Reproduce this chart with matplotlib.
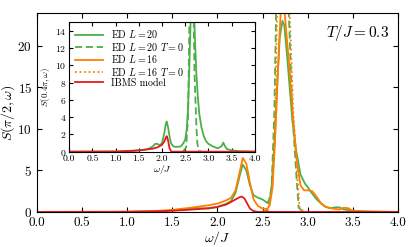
import matplotlib
matplotlib.use("Agg")
import matplotlib.pyplot as plt

plt.rcParams["font.family"] = "serif"
plt.rcParams["font.serif"] = ["cmr10", "DejaVu Serif"]
plt.rcParams["mathtext.fontset"] = "cm"
plt.rcParams["axes.formatter.use_mathtext"] = True

green = "#4daf4a"
orange = "#ff7f00"
red = "#e41a1c"

# main panel: S(pi/2, omega)
w_g20 = [0, 1.0, 1.4, 1.6, 1.7, 1.75, 1.8, 1.9, 2.0, 2.1, 2.15, 2.2, 2.25, 2.28, 2.32, 2.36,
         2.4, 2.45, 2.5, 2.55, 2.58, 2.6, 2.63, 2.66, 2.69, 2.72, 2.74, 2.77, 2.8, 2.83, 2.87,
         2.92, 2.97, 3.0, 3.05, 3.1, 3.15, 3.2, 3.25, 3.3, 3.35, 3.4, 3.5, 3.6, 3.8, 4.0]
s_g20 = [0, 0.02, 0.1, 0.25, 0.4, 0.5, 0.45, 0.4, 0.6, 1.0, 1.3, 2.3, 4.5, 5.7, 5.0, 3.2,
         2.0, 1.7, 1.5, 1.1, 1.5, 3.0, 8, 15, 21, 23, 22.5, 19, 15, 11, 7.5,
         4.5, 3.4, 3.0, 2.2, 1.5, 1.0, 0.6, 0.45, 0.55, 0.55, 0.3, 0.15, 0.08, 0.03, 0.0]

w_g20_t0 = [2.5, 2.55, 2.6, 2.63, 2.65, 2.7, 2.75, 2.79, 2.83, 2.87, 2.9, 2.95]
s_g20_t0 = [0, 0.2, 3, 12, 24, 40, 35, 24, 12, 5, 0.5, 0]

w_o16 = [0, 1.0, 1.3, 1.5, 1.7, 1.9, 2.0, 2.1, 2.15, 2.2, 2.25, 2.28, 2.32, 2.36, 2.4, 2.45,
         2.5, 2.55, 2.58, 2.61, 2.64, 2.67, 2.7, 2.73, 2.76, 2.8, 2.84, 2.88, 2.92, 2.96, 3.0,
         3.05, 3.1, 3.15, 3.2, 3.3, 3.35, 3.4, 3.45, 3.5, 3.7, 4.0]
s_o16 = [0, 0.02, 0.1, 0.25, 0.5, 0.8, 1.0, 1.4, 1.7, 2.6, 5.0, 6.5, 5.8, 3.5, 1.5, 0.7,
         0.4, 0.35, 0.8, 3, 9, 17, 24, 26, 22, 17, 11, 6, 3.2, 2.6, 2.6,
         2.5, 1.8, 1.0, 0.6, 0.35, 0.3, 0.5, 0.45, 0.1, 0.02, 0]

w_o16_t0 = [2.5, 2.56, 2.61, 2.64, 2.66, 2.71, 2.76, 2.8, 2.84, 2.88, 2.91, 2.96]
s_o16_t0 = [0, 0.2, 3, 12, 24, 40, 35, 24, 12, 5, 0.5, 0]

w_ibms = [0, 0.8, 1.0, 1.2, 1.4, 1.6, 1.8, 1.9, 2.0, 2.1, 2.15, 2.2, 2.25, 2.27, 2.3, 2.33,
          2.36, 2.4, 2.45, 4.0]
s_ibms = [0, 0.0, 0.02, 0.05, 0.1, 0.2, 0.35, 0.45, 0.6, 0.9, 1.2, 1.5, 1.8, 1.85, 1.6, 1.0,
          0.4, 0.1, 0, 0]

# inset: S(0.4pi, omega)
wi_g20 = [0, 1.0, 1.5, 1.7, 1.8, 1.85, 1.9, 1.95, 2.0, 2.05, 2.08, 2.1, 2.13, 2.17, 2.2, 2.25,
          2.3, 2.4, 2.45, 2.5, 2.53, 2.56, 2.59, 2.62, 2.65, 2.68, 2.71, 2.74, 2.77, 2.8, 2.85,
          2.9, 2.95, 3.0, 3.1, 3.2, 3.28, 3.32, 3.36, 3.4, 3.5, 3.7, 4.0]
si_g20 = [0, 0.02, 0.15, 0.3, 0.6, 0.9, 0.9, 0.75, 1.0, 2.2, 3.2, 3.5, 2.8, 1.5, 0.9, 0.6,
          0.55, 0.6, 0.9, 1.4, 2.5, 5, 10, 16, 20, 18, 13, 9, 6.5, 4.5, 2.8,
          1.8, 1.2, 0.9, 0.6, 0.4, 0.6, 1.05, 0.6, 0.3, 0.15, 0.05, 0]

wi_g20_t0 = [2.45, 2.52, 2.56, 2.59, 2.62, 2.65, 2.68, 2.7, 2.72, 2.74, 2.76, 2.79, 2.85]
si_g20_t0 = [0, 0.5, 4, 15, 30, 32, 16, 9, 6, 3, 1, 0.1, 0]

wi_ibms = [0, 1.0, 1.2, 1.4, 1.6, 1.8, 1.9, 2.0, 2.05, 2.08, 2.1, 2.13, 2.16, 2.2, 4.0]
si_ibms = [0, 0.01, 0.05, 0.1, 0.2, 0.35, 0.5, 0.8, 1.2, 1.6, 1.8, 1.3, 0.4, 0, 0]

fig = plt.figure(figsize=(4.15, 2.47), dpi=100)
ax = fig.add_axes([0.089, 0.142, 0.870, 0.807])

ax.plot(w_g20, s_g20, color=green, lw=1.3)
ax.plot(w_g20_t0, s_g20_t0, color=green, lw=1.3, ls=(0, (4, 2)))
ax.plot(w_o16, s_o16, color=orange, lw=1.3)
ax.plot(w_o16_t0, s_o16_t0, color=orange, lw=1.3, ls=(0, (1, 1.5)))
ax.plot(w_ibms, s_ibms, color=red, lw=1.3)

ax.set_xlim(0, 4)
ax.set_ylim(0, 24)
ax.set_xticks([0, 0.5, 1.0, 1.5, 2.0, 2.5, 3.0, 3.5, 4.0])
ax.set_xticklabels(["0.0", "0.5", "1.0", "1.5", "2.0", "2.5", "3.0", "3.5", "4.0"])
ax.set_yticks([0, 5, 10, 15, 20])
ax.tick_params(direction="in", top=True, right=True, labelsize=9.5, length=3.5)
ax.set_xlabel(r"$\omega/J$", fontsize=10, labelpad=0)
ax.set_ylabel(r"$S(\pi/2,\omega)$", fontsize=10, labelpad=0)
ax.text(3.9, 21.5, r"$T/J = 0.3$", ha="right", va="center", fontsize=11)

ins = fig.add_axes([0.167, 0.386, 0.447, 0.524])
ins.plot(wi_g20, si_g20, color=green, lw=1.3, label=r"ED $L=20$")
ins.plot(wi_g20_t0, si_g20_t0, color=green, lw=1.3, ls=(0, (4, 2)), label=r"ED $L=20$ $T=0$")
ins.plot([], [], color=orange, lw=1.3, label=r"ED $L=16$")
ins.plot([], [], color=orange, lw=1.3, ls=(0, (1, 1.5)), label=r"ED $L=16$ $T=0$")
ins.plot(wi_ibms, si_ibms, color=red, lw=1.3, label="IBMS model")
ins.set_xlim(0, 4)
ins.set_ylim(0, 15)
ins.set_xticks([0, 0.5, 1.0, 1.5, 2.0, 2.5, 3.0, 3.5, 4.0])
ins.set_xticklabels(["0.0", "0.5", "1.0", "1.5", "2.0", "2.5", "3.0", "3.5", "4.0"])
ins.set_yticks([0, 2, 4, 6, 8, 10, 12, 14])
ins.tick_params(direction="in", top=True, right=True, labelsize=7, length=3, pad=2)
ins.set_xlabel(r"$\omega/J$", fontsize=7, labelpad=0)
ins.set_ylabel(r"$S(0.4\pi,\omega)$", fontsize=6.5, labelpad=2)
ins.legend(loc="upper left", frameon=False, fontsize=7.2, handlelength=2.8,
           labelspacing=0.05, borderaxespad=0.2, handletextpad=0.8)

fig.savefig("out.png", dpi=100)
